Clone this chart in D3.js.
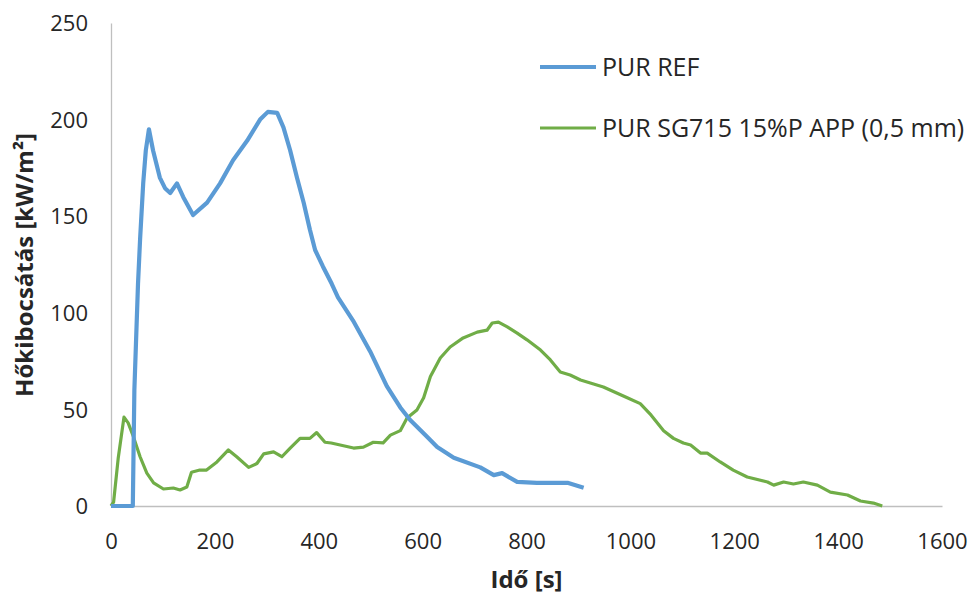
<!DOCTYPE html>
<html>
<head>
<meta charset="utf-8">
<script src="https://cdn.jsdelivr.net/npm/d3@7"></script>
<style>
    body { margin: 0; background: #fff; }
    svg text { font-family: "Open Sans", sans-serif; fill: #262626; }
</style>
</head>
<body>
<div id="chart"></div>
<script>
// PUR REF
var refTime = [0, 42, 45, 52, 56, 62, 67, 73, 81, 94, 104, 114, 127, 139, 158, 185, 210, 235, 262, 287, 302, 320, 332, 345, 358, 371, 383, 393, 408, 425, 437, 466, 499, 531, 557, 576, 609, 628, 660, 711, 737, 753, 782, 820, 852, 879, 910]
var refHrr = [0, 0, 60, 115, 138, 167, 184, 195, 184, 170, 164.5, 162, 167, 160, 150.6, 157, 167, 179, 189, 200, 204, 203.5, 196, 184, 170, 157, 143, 132.5, 124, 115, 108, 96, 80, 62, 51, 44.5, 35.7, 30.5, 25, 20, 16, 17, 12.5, 12, 12, 12, 9.5]

// PUR SG715 15%P APP (0,5 mm)
var appTime = [0, 5, 14, 25, 33, 43, 56, 69, 82, 101, 120, 133, 146, 155, 171, 184, 204, 226, 242, 265, 281, 294, 313, 329, 345, 364, 383, 396, 412, 424, 467, 486, 505, 524, 538, 557, 570, 589, 602, 615, 634, 653, 678, 705, 724, 734, 746, 763, 782, 801, 827, 846, 865, 884, 904, 948, 994, 1019, 1040, 1064, 1083, 1102, 1116, 1135, 1148, 1173, 1198, 1225, 1264, 1276, 1295, 1314, 1333, 1360, 1385, 1418, 1443, 1468, 1485]
var appHrr = [0, 2, 25, 46, 43, 36, 25.5, 17, 12, 8.8, 9.3, 8.3, 9.8, 17.5, 18.6, 18.6, 22.8, 29, 25.5, 20, 22, 27, 28, 25.5, 30, 35, 35, 38, 33, 32.6, 30, 30.5, 33, 32.7, 36.7, 39, 45.5, 49.7, 56, 67, 76.6, 82.3, 87, 90, 91, 94.7, 95.2, 92.7, 89.5, 86, 80.7, 75.6, 69.4, 67.8, 65.2, 61.6, 56, 53, 47, 39, 35, 32.6, 31.6, 27.4, 27.4, 22.8, 18.6, 15, 12.4, 10.8, 12.4, 11.4, 12.4, 10.8, 7.2, 5.7, 2.6, 1.5, 0]

var xTicks = [0, 200, 400, 600, 800, 1000, 1200, 1400, 1600]
var yTicks = [0, 50, 100, 150, 200, 250]
var seriesNames = ['PUR REF', 'PUR SG715 15%P APP (0,5 mm)']

var width = 973, height = 594
var margin = {left: 111, right: 31, top: 23, bottom: 88}

var svg = d3.select('#chart').append('svg')
    .attr('width', width).attr('height', height)

var x = d3.scaleLinear().domain([0, 1600]).range([margin.left, width - margin.right])
var y = d3.scaleLinear().domain([0, 250]).range([height - margin.bottom, margin.top])

// axes, no tick marks, light grey axis lines
var xAxis = svg.append('g')
    .attr('transform', 'translate(0,' + y(0) + ')')
    .call(d3.axisBottom(x).tickValues(xTicks).tickFormat(d3.format('d')).tickSize(0).tickPadding(27))
var yAxis = svg.append('g')
    .attr('transform', 'translate(' + x(0) + ',0)')
    .call(d3.axisLeft(y).tickValues(yTicks).tickFormat(d3.format('d')).tickSize(0).tickPadding(23))

svg.selectAll('.domain').attr('stroke', '#bfbfbf').attr('stroke-width', 1.3)
svg.selectAll('.tick text')
    .attr('font-family', '"Open Sans", sans-serif')
    .attr('font-size', 22)
    .attr('fill', '#262626')
yAxis.selectAll('.tick text').attr('dy', '0.35em')

// titles
svg.append('text')
    .attr('x', (x(0) + x(1600)) / 2).attr('y', 588)
    .attr('text-anchor', 'middle')
    .attr('font-size', 24).attr('font-weight', 'bold')
    .text('Idő [s]')
svg.append('text')
    .attr('transform', 'translate(33,265) rotate(-90)')
    .attr('text-anchor', 'middle')
    .attr('font-size', 24).attr('font-weight', 'bold')
    .text('Hőkibocsátás [kW/m²]')

// lines
var line = d3.line()
    .x(function (d) { return x(d[0]) })
    .y(function (d) { return y(d[1]) })

var refData = d3.zip(refTime, refHrr)
var appData = d3.zip(appTime, appHrr)

svg.append('path').datum(appData)
    .attr('d', line).attr('fill', 'none')
    .attr('stroke', '#70ad47').attr('stroke-width', 3.2)
    .attr('stroke-linejoin', 'round')
svg.append('path').datum(refData)
    .attr('d', line).attr('fill', 'none')
    .attr('stroke', '#5b9bd5').attr('stroke-width', 4.2)
    .attr('stroke-linejoin', 'round')

// legend
var legend = [
    {name: seriesNames[0], color: '#5b9bd5', w: 4.2, y: 67},
    {name: seriesNames[1], color: '#70ad47', w: 3.2, y: 128}
]
var lg = svg.selectAll('.legend').data(legend).enter().append('g').attr('class', 'legend')
lg.append('line')
    .attr('x1', 540).attr('x2', 596)
    .attr('y1', function (d) { return d.y }).attr('y2', function (d) { return d.y })
    .attr('stroke', function (d) { return d.color })
    .attr('stroke-width', function (d) { return d.w })
lg.append('text')
    .attr('x', 602).attr('y', function (d) { return d.y })
    .attr('dy', '0.35em')
    .attr('font-size', 25)
    .text(function (d) { return d.name })
</script>
</body>
</html>
